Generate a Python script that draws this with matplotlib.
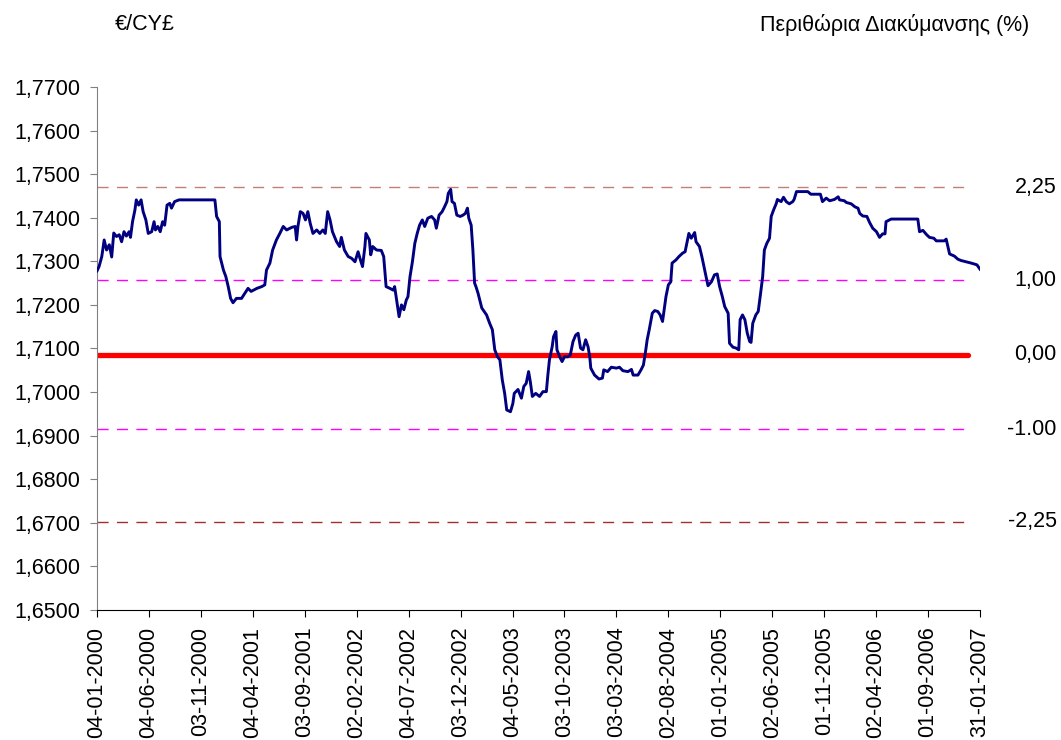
import matplotlib
matplotlib.use("Agg")
import matplotlib.pyplot as plt
from matplotlib.ticker import FuncFormatter, MultipleLocator
import matplotlib.transforms as mtransforms
import pandas as pd

plt.rcParams['font.family'] = ['Liberation Sans', 'DejaVu Sans']

# --- exchange rate EUR/CYP ---
dates = [
    "04-01-2000", "10-01-2000", "18-01-2000", "25-01-2000", "01-02-2000", "09-02-2000", "16-02-2000",
    "22-02-2000", "01-03-2000", "09-03-2000", "16-03-2000", "23-03-2000", "30-03-2000", "07-04-2000",
    "11-04-2000", "17-04-2000", "24-04-2000", "28-04-2000", "05-05-2000", "12-05-2000", "18-05-2000",
    "26-05-2000", "02-06-2000", "12-06-2000", "19-06-2000", "23-06-2000", "30-06-2000", "07-07-2000",
    "14-07-2000", "20-07-2000", "27-07-2000", "04-08-2000", "09-08-2000", "18-08-2000", "31-08-2000",
    "14-12-2000", "19-12-2000", "27-12-2000", "29-12-2000",
    "08-01-2001", "15-01-2001", "22-01-2001", "29-01-2001", "05-02-2001", "15-02-2001", "02-03-2001",
    "12-03-2001", "21-03-2001", "30-03-2001", "16-04-2001", "30-04-2001", "09-05-2001", "14-05-2001",
    "24-05-2001", "01-06-2001", "12-06-2001", "22-06-2001", "02-07-2001", "12-07-2001", "27-07-2001",
    "06-08-2001", "10-08-2001", "14-08-2001", "21-08-2001", "29-08-2001", "05-09-2001", "12-09-2001",
    "19-09-2001", "27-09-2001", "08-10-2001", "17-10-2001", "26-10-2001", "02-11-2001", "09-11-2001",
    "16-11-2001", "23-11-2001", "05-12-2001", "14-12-2001", "19-12-2001", "28-12-2001",
    "08-01-2002", "18-01-2002", "28-01-2002", "06-02-2002", "13-02-2002", "19-02-2002", "26-02-2002",
    "01-03-2002", "11-03-2002", "15-03-2002", "21-03-2002", "01-04-2002", "15-04-2002", "22-04-2002",
    "29-04-2002", "10-05-2002", "20-05-2002", "24-05-2002", "31-05-2002", "06-06-2002", "13-06-2002",
    "20-06-2002", "27-06-2002", "02-07-2002", "08-07-2002", "15-07-2002", "22-07-2002", "29-07-2002",
    "05-08-2002", "13-08-2002", "20-08-2002", "29-08-2002", "09-09-2002", "18-09-2002", "23-09-2002",
    "01-10-2002", "10-10-2002", "17-10-2002", "24-10-2002", "28-10-2002", "04-11-2002", "08-11-2002",
    "15-11-2002", "22-11-2002", "02-12-2002", "10-12-2002", "17-12-2002", "23-12-2002", "27-12-2002",
    "03-01-2003", "08-01-2003", "13-01-2003", "17-01-2003", "23-01-2003", "03-02-2003", "17-02-2003",
    "26-02-2003", "06-03-2003", "13-03-2003", "21-03-2003", "28-03-2003", "04-04-2003", "11-04-2003",
    "17-04-2003", "28-04-2003", "05-05-2003", "09-05-2003", "20-05-2003", "30-05-2003", "06-06-2003",
    "13-06-2003", "20-06-2003", "25-06-2003", "01-07-2003", "11-07-2003", "22-07-2003", "01-08-2003",
    "11-08-2003", "15-08-2003", "20-08-2003", "28-08-2003", "01-09-2003", "08-09-2003", "11-09-2003",
    "19-09-2003", "26-09-2003", "03-10-2003", "13-10-2003", "20-10-2003", "28-10-2003", "05-11-2003",
    "12-11-2003", "19-11-2003", "26-11-2003", "04-12-2003", "11-12-2003", "16-12-2003", "19-12-2003",
    "30-12-2003",
    "12-01-2004", "22-01-2004", "26-01-2004", "06-02-2004", "17-02-2004", "03-03-2004", "12-03-2004",
    "22-03-2004", "06-04-2004", "16-04-2004", "21-04-2004", "05-05-2004", "14-05-2004", "21-05-2004",
    "28-05-2004", "01-06-2004", "07-06-2004", "16-06-2004", "23-06-2004", "02-07-2004", "09-07-2004",
    "16-07-2004", "26-07-2004", "02-08-2004", "09-08-2004", "13-08-2004", "24-08-2004", "02-09-2004",
    "13-09-2004", "20-09-2004", "27-09-2004", "01-10-2004", "08-10-2004", "18-10-2004", "22-10-2004",
    "01-11-2004", "08-11-2004", "12-11-2004", "19-11-2004", "26-11-2004", "06-12-2004", "15-12-2004",
    "23-12-2004", "30-12-2004",
    "07-01-2005", "14-01-2005", "24-01-2005", "28-01-2005", "07-02-2005", "16-02-2005", "24-02-2005",
    "28-02-2005", "07-03-2005", "14-03-2005", "21-03-2005", "28-03-2005", "01-04-2005", "06-04-2005",
    "15-04-2005", "22-04-2005", "29-04-2005", "05-05-2005", "10-05-2005", "17-05-2005", "25-05-2005",
    "30-05-2005", "06-06-2005", "14-06-2005", "17-06-2005", "28-06-2005", "05-07-2005", "13-07-2005",
    "22-07-2005", "01-08-2005", "05-08-2005", "12-08-2005", "14-09-2005", "23-09-2005", "21-10-2005",
    "27-10-2005", "07-11-2005", "17-11-2005", "01-12-2005", "12-12-2005", "16-12-2005", "30-12-2005",
    "05-01-2006", "19-01-2006", "30-01-2006", "08-02-2006", "13-02-2006", "22-02-2006", "06-03-2006",
    "14-03-2006", "23-03-2006", "03-04-2006", "12-04-2006", "21-04-2006", "28-04-2006", "01-05-2006",
    "16-05-2006", "02-08-2006", "07-08-2006", "17-08-2006", "28-08-2006", "05-09-2006", "18-09-2006",
    "25-09-2006", "19-10-2006", "24-10-2006", "03-11-2006", "17-11-2006", "27-11-2006", "06-12-2006",
    "21-12-2006", "05-01-2007", "22-01-2007", "31-01-2007",
]
rates = [
    1.7278, 1.7288, 1.7311, 1.7349, 1.7326, 1.7338, 1.7310,
    1.7365, 1.7357, 1.7361, 1.7345, 1.7368, 1.7358, 1.7368,
    1.7355, 1.7391, 1.7418, 1.7441, 1.7429, 1.7441, 1.7414,
    1.7395, 1.7364, 1.7368, 1.7391, 1.7372, 1.7380, 1.7368,
    1.7391, 1.7383, 1.7429, 1.7433, 1.7422, 1.7437, 1.7441,
    1.7441, 1.7403, 1.7391, 1.7311,
    1.7280, 1.7265, 1.7242, 1.7215, 1.7205, 1.7215, 1.7215,
    1.7227, 1.7238, 1.7231, 1.7238, 1.7242, 1.7246, 1.7280,
    1.7296, 1.7326, 1.7349, 1.7364, 1.7380, 1.7372, 1.7378,
    1.7380, 1.7349, 1.7380, 1.7414, 1.7410, 1.7395, 1.7414,
    1.7387, 1.7364, 1.7372, 1.7364, 1.7372, 1.7364, 1.7414,
    1.7395, 1.7368, 1.7345, 1.7334, 1.7355, 1.7326,
    1.7311, 1.7307, 1.7299, 1.7322, 1.7303, 1.7288, 1.7334,
    1.7364, 1.7349, 1.7315, 1.7334, 1.7326, 1.7325, 1.7311,
    1.7242, 1.7238, 1.7234, 1.7242, 1.7204, 1.7173, 1.7200,
    1.7189, 1.7211, 1.7219, 1.7265, 1.7299, 1.7341, 1.7364,
    1.7383, 1.7395, 1.7380, 1.7399, 1.7403, 1.7395, 1.7376,
    1.7406, 1.7414, 1.7425, 1.7437, 1.7456, 1.7465, 1.7437,
    1.7433, 1.7406, 1.7403, 1.7406, 1.7410, 1.7422, 1.7399,
    1.7383, 1.7326, 1.7250, 1.7242, 1.7227, 1.7193, 1.7177,
    1.7158, 1.7143, 1.7097, 1.7081, 1.7074, 1.7028, 1.6997,
    1.6959, 1.6955, 1.6974, 1.6997, 1.7006, 1.6986, 1.7013,
    1.7020, 1.7047, 1.7024, 1.6990, 1.6997, 1.6990, 1.7001,
    1.7001, 1.7036, 1.7074, 1.7104, 1.7127, 1.7139, 1.7097,
    1.7081, 1.7070, 1.7081, 1.7081, 1.7085, 1.7116, 1.7131,
    1.7135, 1.7101, 1.7097, 1.7120, 1.7104, 1.7081, 1.7055,
    1.7039,
    1.7030, 1.7032, 1.7051, 1.7047, 1.7057, 1.7055, 1.7057,
    1.7049, 1.7047, 1.7052, 1.7039, 1.7039, 1.7051, 1.7062,
    1.7097, 1.7120, 1.7143, 1.7181, 1.7187, 1.7185, 1.7177,
    1.7162, 1.7219, 1.7246, 1.7253, 1.7296, 1.7303, 1.7311,
    1.7319, 1.7322, 1.7349, 1.7364, 1.7353, 1.7366, 1.7345,
    1.7334, 1.7311, 1.7296, 1.7269, 1.7244, 1.7253, 1.7269,
    1.7271, 1.7242,
    1.7219, 1.7196, 1.7181, 1.7112, 1.7103, 1.7101, 1.7097,
    1.7166, 1.7177, 1.7166, 1.7135, 1.7116, 1.7114, 1.7158,
    1.7177, 1.7185, 1.7227, 1.7265, 1.7326, 1.7341, 1.7353,
    1.7403, 1.7418, 1.7433, 1.7442, 1.7437, 1.7447, 1.7437,
    1.7432, 1.7437, 1.7442, 1.7460, 1.7460, 1.7454, 1.7454,
    1.7437, 1.7445, 1.7439, 1.7442, 1.7448, 1.7441, 1.7439,
    1.7435, 1.7432, 1.7425, 1.7422, 1.7410, 1.7404, 1.7403,
    1.7389, 1.7376, 1.7368, 1.7355, 1.7363, 1.7363, 1.7391,
    1.7397, 1.7397, 1.7368, 1.7371, 1.7361, 1.7355, 1.7353,
    1.7347, 1.7347, 1.7351, 1.7317, 1.7312, 1.7305, 1.7302,
    1.7299, 1.7296, 1.7292, 1.7282,
]

# fluctuation band levels (central rate 1,7086)
band_levels = [1.7470, 1.7257, 1.7086, 1.6915, 1.6702]
band_labels = ["2,25", "1,00", "0,00", "-1.00", "-2,25"]
band_colors = ["#C08078", "#FF00FF", "#FF0000", "#FF00FF", "#A03030"]
band_end = "27-12-2006"

tick_dates = [
    "04-01-2000", "04-06-2000", "03-11-2000", "04-04-2001", "03-09-2001", "02-02-2002",
    "04-07-2002", "03-12-2002", "04-05-2003", "03-10-2003", "03-03-2004", "02-08-2004",
    "01-01-2005", "02-06-2005", "01-11-2005", "02-04-2006", "01-09-2006", "31-01-2007",
]

x = pd.to_datetime(dates, format="%d-%m-%Y")
ticks = pd.to_datetime(tick_dates, format="%d-%m-%Y")
x0, x1 = ticks[0], ticks[-1]
xb = pd.to_datetime(band_end, format="%d-%m-%Y")

fig = plt.figure(figsize=(10.61, 7.40), dpi=100)
ax = fig.add_axes([97 / 1061, 1 - 610 / 740, (980 - 97) / 1061, (610 - 87) / 740])

for lvl, col in zip(band_levels, band_colors):
    if col == "#FF0000":
        ax.plot([x0, xb], [lvl, lvl], color=col, lw=3.8, solid_capstyle="round", zorder=2)
    else:
        ax.plot([x0, xb], [lvl, lvl], color=col, lw=1.0, dashes=(8, 6), zorder=2)

ax.plot(x, rates, color="#000080", lw=2.1, zorder=3)

ax.set_xlim(x0, x1)
ax.set_ylim(1.65, 1.77)
ax.yaxis.set_major_locator(MultipleLocator(0.01))
ax.yaxis.set_major_formatter(FuncFormatter(lambda v, p: f"{v:.4f}".replace(".", ",")))
ax.set_xticks(ticks)
ax.set_xticklabels(tick_dates, rotation=90)

for s in ["top", "right"]:
    ax.spines[s].set_visible(False)
ax.spines["left"].set_color("#808080")
ax.spines["bottom"].set_color("black")
ax.tick_params(axis="y", colors="#808080", labelcolor="black", labelsize=15.5, length=5, pad=7, direction="out")
ax.tick_params(axis="x", colors="black", labelsize=15.5, length=5, direction="out", pad=7)

trans = mtransforms.blended_transform_factory(fig.transFigure, ax.transData)
for lvl, lab in zip(band_levels, band_labels):
    ax.text(0.996, lvl, lab, transform=trans, ha="right", va="center", fontsize=15.5)

fig.text(115 / 1061, 1 - 25 / 740, "€/CY£", ha="left", va="center", fontsize=15.5)
fig.text(1029 / 1061, 1 - 25 / 740, "Περιθώρια Διακύμανσης (%)", ha="right", va="center", fontsize=15.5)

fig.savefig("out.png", dpi=100)
